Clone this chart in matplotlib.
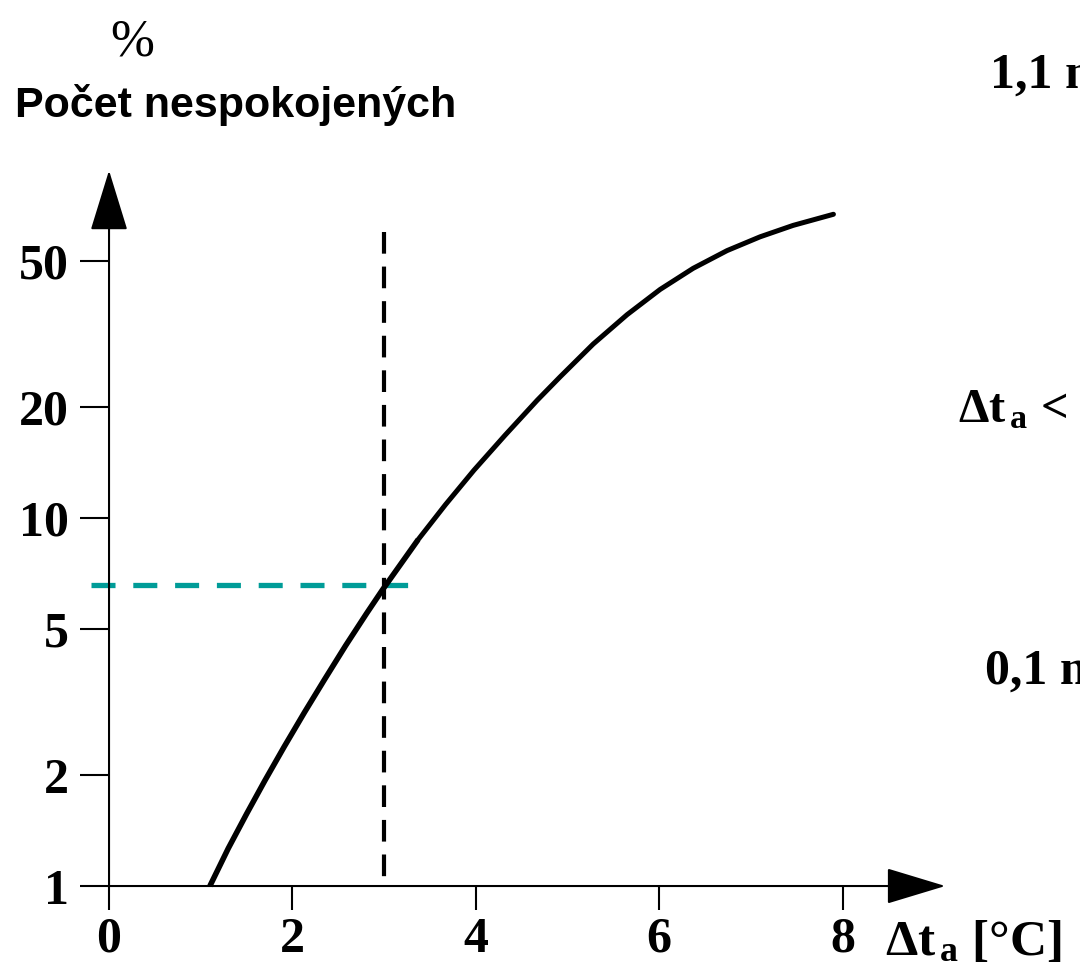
import numpy as np
import matplotlib.pyplot as plt
from matplotlib.ticker import NullLocator, FixedLocator, FixedFormatter

plt.rcParams['mathtext.fontset'] = 'custom'
plt.rcParams['mathtext.rm'] = 'Liberation Serif:bold'
plt.rcParams['mathtext.it'] = 'Liberation Serif:bold'
plt.rcParams['mathtext.bf'] = 'Liberation Serif:bold'

# Data
dt_a = [1.1, 1.3, 1.5, 1.7, 1.91, 2.13, 2.35, 2.58, 2.81, 2.98,
        3.37, 3.67, 3.98, 4.32, 4.67, 4.92, 5.28, 5.65, 6.01, 6.37,
        6.74, 7.1, 7.46, 7.9]
dissatisfied = [1.0, 1.265, 1.57, 1.935, 2.39, 2.96, 3.64, 4.5, 5.51, 6.37,
                8.73, 10.88, 13.49, 16.8, 20.9, 24.2, 29.7, 35.7, 41.8, 47.7,
                53.3, 58.1, 62.4, 66.9]

x_ticks = [0, 2, 4, 6, 8]
y_ticks = [1, 2, 5, 10, 20, 50]
y_labels = ['1', '2', '5', '10', '20', '50']

limit_dt = 3.0          # vertical dashed line
limit_top = 60.0
limit_pct = 6.58        # teal horizontal line
teal_x = [-0.2, 3.26]

serif = 'Liberation Serif'
sans = 'Liberation Sans'

fig = plt.figure(figsize=(10.8, 9.68), dpi=100)
ax = fig.add_axes([0, 0, 1, 1])
ax.set_yscale('log')
ax.set_xlim(-1.189, 10.589)
ax.set_ylim(0.5987, 255.7)

for s in ax.spines.values():
    s.set_visible(False)
ax.spines['left'].set_position(('data', 0))
ax.spines['bottom'].set_position(('data', 1))

ax.xaxis.set_major_locator(FixedLocator(x_ticks))
ax.xaxis.set_major_formatter(FixedFormatter([str(v) for v in x_ticks]))
ax.yaxis.set_major_locator(FixedLocator(y_ticks))
ax.yaxis.set_major_formatter(FixedFormatter(y_labels))
ax.yaxis.set_minor_locator(NullLocator())
ax.xaxis.set_minor_locator(NullLocator())

ax.tick_params(axis='y', direction='out', length=21, width=1.5, pad=8,
               labelsize=36, left=True, right=False)
ax.tick_params(axis='x', direction='out', length=17, width=1.5, pad=5,
               labelsize=36, bottom=True, top=False)
for lab in ax.get_xticklabels() + ax.get_yticklabels():
    lab.set_fontfamily(serif)
    lab.set_fontweight('bold')

# axes with arrow heads
arrow = dict(arrowstyle='-|>,head_length=39,head_width=12', lw=1.5,
             color='k', shrinkA=0, shrinkB=0, mutation_scale=1)
ax.annotate('', xy=(0, 88), xytext=(0, 1), arrowprops=arrow)
arrow_x = dict(arrow, arrowstyle='-|>,head_length=38,head_width=11.5')
ax.annotate('', xy=(9.12, 1), xytext=(0, 1), arrowprops=arrow_x)

# reference lines
ax.plot(teal_x, [limit_pct, limit_pct], color='#009c98', lw=3.8,
        dashes=(4.55, 3.37), zorder=2)
ax.plot([limit_dt, limit_dt], [limit_top, 1], color='k', lw=3.0,
        dashes=(5.2, 3.1), zorder=3)

# curve - drawn a bit heavier at the lower end, as in the original
split = 11
ax.plot(dt_a[:split], dissatisfied[:split], color='k', lw=4.0,
        solid_capstyle='butt', solid_joinstyle='round', zorder=4)
ax.plot(dt_a[split - 1:], dissatisfied[split - 1:], color='k', lw=3.6,
        solid_capstyle='round', solid_joinstyle='round', zorder=4)

# texts
H = 968.0
W = 1080.0
fig.text(132 / W, 1 - 55 / H, '%', fontfamily=serif, fontsize=38,
         ha='center', va='baseline')
fig.text(15 / W, 1 - 117 / H, 'Počet nespokojených', fontfamily=sans,
         fontweight='bold', fontsize=31, ha='left', va='baseline')
fig.text(885 / W, 1 - 955 / H, r'$\Delta\mathrm{t}_{\,\mathrm{a}}$ [°C]',
         fontfamily=serif, fontweight='bold', fontsize=37,
         ha='left', va='baseline')
fig.text(990 / W, 1 - 88 / H, '1,1 m', fontfamily=serif, fontweight='bold',
         fontsize=36, ha='left', va='baseline')
fig.text(958 / W, 1 - 422 / H, r'$\Delta\mathrm{t}_{\,\mathrm{a}}$ <',
         fontfamily=serif, fontweight='bold', fontsize=35,
         ha='left', va='baseline')
fig.text(985 / W, 1 - 684 / H, '0,1 m', fontfamily=serif, fontweight='bold',
         fontsize=36, ha='left', va='baseline')

fig.savefig('out.png', dpi=100)
